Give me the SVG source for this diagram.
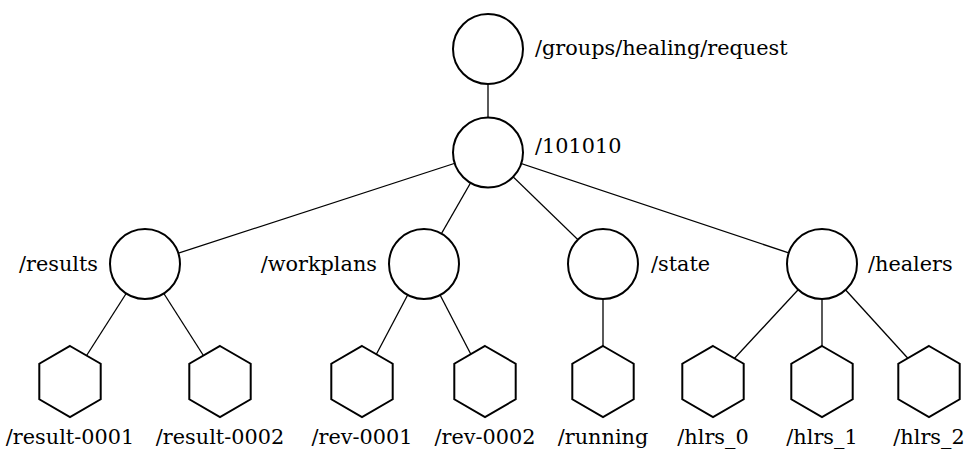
<svg xmlns="http://www.w3.org/2000/svg" width="968" height="449" viewBox="0 0 968 449">
  <style>
    .lbl { font-family: "DejaVu Serif", "Liberation Serif", serif; font-size: 20.8px; fill: #000; }
    .end { text-anchor: end; }
    .mid { text-anchor: middle; }
    .edge { stroke: #000; stroke-width: 1.3; fill: none; }
    .dir { fill: #fff; stroke: #000; stroke-width: 2; }
    .leaf { fill: #fff; stroke: #000; stroke-width: 2; stroke-linejoin: miter; }
  </style>
  <defs>
    <!-- pointy-top hexagon, circumradius 35.5 -->
    <polygon id="hex" points="0,-35.5 30.7,-17.75 30.7,17.75 0,35.5 -30.7,17.75 -30.7,-17.75"/>
  </defs>
  <rect width="968" height="449" fill="#fff"/>

  <!-- connectors run centre to centre; the filled shapes cover the inner ends -->
  <g id="edges" class="edge">
    <line x1="488" y1="49" x2="488" y2="152.5"/>
    <line x1="488" y1="152.5" x2="145" y2="264"/>
    <line x1="488" y1="152.5" x2="424" y2="264"/>
    <line x1="488" y1="152.5" x2="603" y2="264"/>
    <line x1="488" y1="152.5" x2="822" y2="264"/>
    <line x1="145" y1="264" x2="70" y2="381.5"/>
    <line x1="145" y1="264" x2="220" y2="381.5"/>
    <line x1="424" y1="264" x2="362" y2="381.5"/>
    <line x1="424" y1="264" x2="485" y2="381.5"/>
    <line x1="603" y1="264" x2="603" y2="381.5"/>
    <line x1="822" y1="264" x2="713" y2="381.5"/>
    <line x1="822" y1="264" x2="822" y2="381.5"/>
    <line x1="822" y1="264" x2="929" y2="381.5"/>
  </g>

  <g id="request">
    <circle class="dir" cx="488" cy="49" r="35"/>
    <text class="lbl" x="535" y="55">/groups/healing/request</text>
  </g>
  <g id="n101010">
    <circle class="dir" cx="488" cy="152.5" r="35"/>
    <text class="lbl" x="535" y="153">/101010</text>
  </g>
  <g id="results">
    <circle class="dir" cx="145" cy="264" r="35"/>
    <text class="lbl end" x="98" y="271">/results</text>
  </g>
  <g id="workplans">
    <circle class="dir" cx="424" cy="264" r="35"/>
    <text class="lbl end" x="377" y="271">/workplans</text>
  </g>
  <g id="state">
    <circle class="dir" cx="603" cy="264" r="35"/>
    <text class="lbl" x="651" y="271">/state</text>
  </g>
  <g id="healers">
    <circle class="dir" cx="822" cy="264" r="35"/>
    <text class="lbl" x="868" y="271">/healers</text>
  </g>

  <g id="result-0001">
    <use href="#hex" class="leaf" x="70" y="381.5"/>
    <text class="lbl mid" x="70" y="443.5">/result-0001</text>
  </g>
  <g id="result-0002">
    <use href="#hex" class="leaf" x="220" y="381.5"/>
    <text class="lbl mid" x="220" y="443.5">/result-0002</text>
  </g>
  <g id="rev-0001">
    <use href="#hex" class="leaf" x="362" y="381.5"/>
    <text class="lbl mid" x="362" y="443.5">/rev-0001</text>
  </g>
  <g id="rev-0002">
    <use href="#hex" class="leaf" x="485" y="381.5"/>
    <text class="lbl mid" x="485" y="443.5">/rev-0002</text>
  </g>
  <g id="running">
    <use href="#hex" class="leaf" x="603" y="381.5"/>
    <text class="lbl mid" x="603" y="443.5">/running</text>
  </g>
  <g id="hlrs_0">
    <use href="#hex" class="leaf" x="713" y="381.5"/>
    <text class="lbl mid" x="713" y="443.5">/hlrs_0</text>
  </g>
  <g id="hlrs_1">
    <use href="#hex" class="leaf" x="822" y="381.5"/>
    <text class="lbl mid" x="822" y="443.5">/hlrs_1</text>
  </g>
  <g id="hlrs_2">
    <use href="#hex" class="leaf" x="929" y="381.5"/>
    <text class="lbl mid" x="929" y="443.5">/hlrs_2</text>
  </g>
</svg>
